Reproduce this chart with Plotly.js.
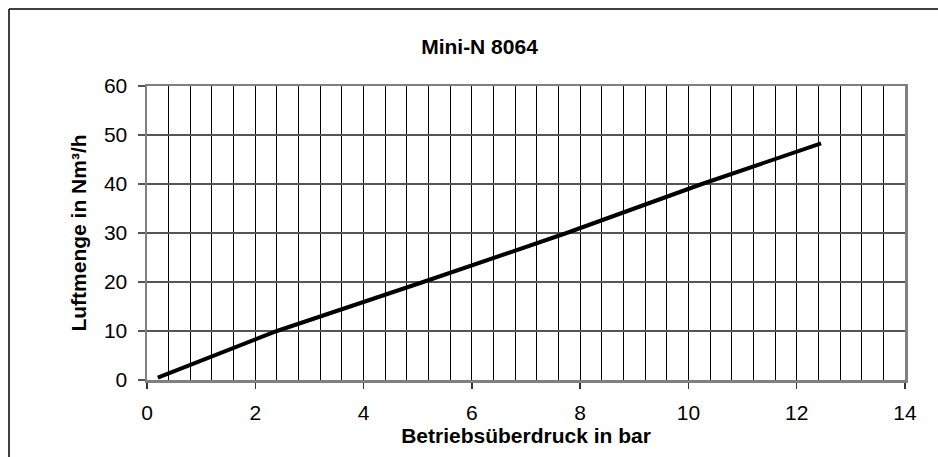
<!DOCTYPE html>
<html>
<head>
<meta charset="utf-8">
<script src="https://cdn.plot.ly/plotly-3.0.1.min.js"></script>
<style>
  html, body { margin: 0; padding: 0; background: #fff; overflow: hidden; }
  #chart { width: 938px; height: 457px; }
</style>
</head>
<body>
<div id="chart"></div>
<script>
// Data
const chartTitle = "Mini-N 8064";
const xTitle = "Betriebsüberdruck in bar";
const yTitle = "Luftmenge in Nm³/h";
const pressureBar = [0.2, 2.4, 5.1, 7.75, 10.25, 12.45];
const airFlowNm3h = [0.5, 10, 20, 30, 40, 48.3];
const xTickValues = [0, 2, 4, 6, 8, 10, 12, 14];
const yTickValues = [0, 10, 20, 30, 40, 50, 60];

const W = 938, H = 457;
const M = { l: 147, r: 33, t: 86, b: 77 };
const plotW = W - M.l - M.r, plotH = H - M.t - M.b;
// outer frame position (pixels) converted to paper coords
const frameX = (9 - M.l) / plotW;
const frameY = (H - M.b - 9) / plotH;

const font = "Arial, 'Liberation Sans', Helvetica, sans-serif";

const trace = {
  x: pressureBar,
  y: airFlowNm3h,
  type: "scatter",
  mode: "lines",
  line: { color: "#000", width: 4 },
  hoverinfo: "x+y",
  showlegend: false
};

const layout = {
  width: W, height: H,
  margin: M,
  paper_bgcolor: "#fff",
  plot_bgcolor: "#fff",
  font: { family: font, size: 21, color: "#000" },
  title: {
    text: "<b>" + chartTitle + "</b>",
    font: { family: font, size: 21, color: "#000" },
    xref: "container", yref: "container",
    x: 479.5 / W, y: 1 - 46.5 / H,
    xanchor: "center", yanchor: "middle"
  },
  xaxis: {
    range: [0, 14],
    tickmode: "array",
    tickvals: xTickValues,
    ticktext: xTickValues.map(String),
    ticks: "outside", ticklen: 6, tickwidth: 1.5, tickcolor: "#333",
    ticklabelstandoff: 6,
    showgrid: true, gridcolor: "#000", gridwidth: 1,
    minor: { dtick: 0.4, tick0: 0, showgrid: true, gridcolor: "#000", gridwidth: 1, ticks: "" },
    showline: true, linecolor: "#808080", linewidth: 2.5, mirror: true,
    zeroline: false,
    tickfont: { family: font, size: 21, color: "#000" },
    title: { text: "<b>" + xTitle + "</b>", font: { family: font, size: 21, color: "#000" }, standoff: 4 }
  },
  yaxis: {
    range: [0, 60],
    tickmode: "array",
    tickvals: yTickValues,
    ticktext: yTickValues.map(String),
    ticks: "outside", ticklen: 7, tickwidth: 1.5, tickcolor: "#555",
    ticklabelstandoff: 6,
    showgrid: true, gridcolor: "#555", gridwidth: 1.5,
    showline: true, linecolor: "#808080", linewidth: 2.5, mirror: true,
    zeroline: false,
    tickfont: { family: font, size: 21, color: "#000" },
    title: { text: "<b>" + yTitle + "</b>", font: { family: font, size: 21, color: "#000" }, standoff: 12 }
  },
  shapes: [
    { type: "line", xref: "paper", yref: "paper", x0: frameX, x1: 1.2, y0: frameY, y1: frameY, line: { color: "#000", width: 1.5 } },
    { type: "line", xref: "paper", yref: "paper", x0: frameX, x1: frameX, y0: frameY, y1: -0.4, line: { color: "#000", width: 1.5 } }
  ]
};

Plotly.newPlot("chart", [trace], layout, { displayModeBar: false, staticPlot: true });
</script>
</body>
</html>
